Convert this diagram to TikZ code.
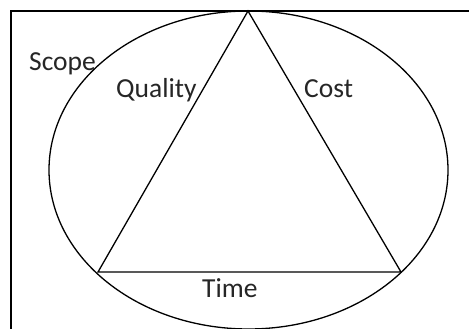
\documentclass[tikz,border=0pt]{standalone}
\usepackage{fontspec}
\setmainfont{Carlito}
\tikzset{
  lbl/.style={anchor=base west, inner sep=0pt, font=\fontsize{27.5}{30}\selectfont, text=black!85},
  edge/.style={draw=black, line width=1.3pt}
}
\begin{document}
\begin{tikzpicture}[x=1pt,y=1pt]
\useasboundingbox (0,0) rectangle (469,329);
\fill[white] (0,0) rectangle (469,329);
% frame (only left and top edges visible)
\coordinate (fbl) at (11,0);
\coordinate (ftl) at (11,318);
\coordinate (ftr) at (469,318);
\draw[edge] (fbl) -- (ftl) -- (ftr);
% ellipse (scope)
\draw[edge] (248.5,159) ellipse [x radius=199.5, y radius=159];
% triangle
\coordinate (apex) at (248,318);
\coordinate (bl) at (98,57);
\coordinate (br) at (401,57);
\draw[edge, line join=miter] (apex) -- (bl) -- (br) -- cycle;
% labels
\node[lbl] (scope) at (29,258) {Scope};
\node[lbl] (quality) at (116,231) {Quality};
\node[lbl] (cost) at (304,231) {Cost};
\node[lbl] (time) at (202,31) {Time};
\end{tikzpicture}
\end{document}
